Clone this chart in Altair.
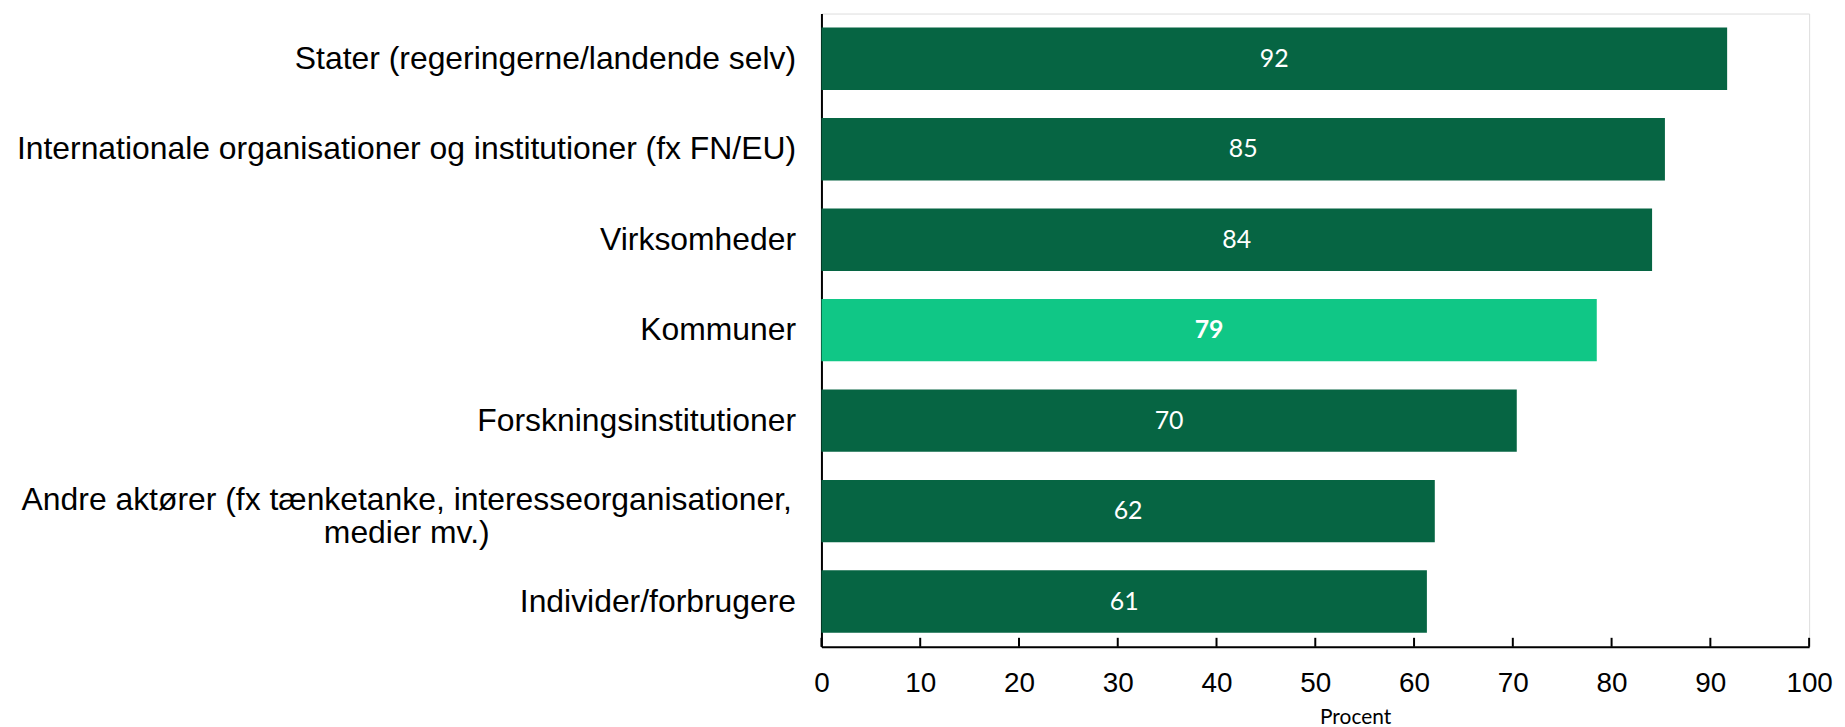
import altair as alt
import pandas as pd

categories = [
    "Stater (regeringerne/landende selv)",
    "Internationale organisationer og institutioner (fx FN/EU)",
    "Virksomheder",
    "Kommuner",
    "Forskningsinstitutioner",
    "Andre aktører (fx tænketanke, interesseorganisationer,\nmedier mv.)",
    "Individer/forbrugere",
]
values = [91.7, 85.4, 84.1, 78.5, 70.4, 62.1, 61.3]
labels = ["92", "85", "84", "79", "70", "62", "61"]
highlight = [False, False, False, True, False, False, False]
tick_values = [0, 10, 20, 30, 40, 50, 60, 70, 80, 90, 100]

df = pd.DataFrame({"kategori": categories, "procent": values,
                   "label": labels, "fremhaevet": highlight})
ticks_df = pd.DataFrame({"t": tick_values})

DARK = "#066543"
LIGHT = "#10C786"

W, H = 992, 636
MULTI = "indexof(datum.value, 'medier') >= 0"

y_enc = alt.Y(
    "kategori:N",
    sort=categories,
    scale=alt.Scale(paddingInner=0.31, paddingOuter=0.155),
    axis=alt.Axis(
        title=None,
        ticks=False,
        domainColor="black",
        domainWidth=2,
        labelFont="Liberation Sans",
        labelFontSize=32,
        labelColor="black",
        labelPadding={"condition": {"test": MULTI, "value": 417}, "value": 26},
        labelAlign={"condition": {"test": MULTI, "value": "center"}, "value": "right"},
        labelOffset={"condition": {"test": MULTI, "value": -11}, "value": 0},
        labelLimit=1200,
        labelLineHeight=33,
        labelExpr="split(datum.label, '\\n')",
    ),
)

x_scale = alt.Scale(domain=[0, 100], nice=False)
x_axis = alt.Axis(
    values=tick_values,
    ticks=False,
    grid=False,
    domainColor="black",
    domainWidth=2,
    labelFont="Liberation Sans",
    labelFontSize=28,
    labelColor="black",
    labelPadding=23,
    labelFlush=False,
    title="Procent",
    titleFont="Lato",
    titleFontSize=21,
    titleFontWeight="normal",
    titleColor="black",
    titleX=536,
    titleY=71,
    titleAlign="center",
    titleBaseline="middle",
)

bars = alt.Chart(df).mark_bar().encode(
    y=y_enc,
    x=alt.X("procent:Q", scale=x_scale, axis=x_axis),
    color=alt.condition("datum.fremhaevet", alt.value(LIGHT), alt.value(DARK)),
)

text_base = alt.Chart(df).transform_calculate(mid="datum.procent / 2")

text_normal = text_base.transform_filter("!datum.fremhaevet").mark_text(
    font="Lato", fontSize=25, color="white", baseline="middle", fontWeight="normal"
).encode(
    y=alt.Y("kategori:N", sort=categories),
    x=alt.X("mid:Q", scale=x_scale),
    text="label:N",
)

text_bold = text_base.transform_filter("datum.fremhaevet").mark_text(
    font="Lato", fontSize=25, color="white", baseline="middle", fontWeight="bold"
).encode(
    y=alt.Y("kategori:N", sort=categories),
    x=alt.X("mid:Q", scale=x_scale),
    text="label:N",
)

tick_marks = alt.Chart(ticks_df).mark_rule(color="black", strokeWidth=2).encode(
    x=alt.X("t:Q", scale=x_scale),
    y=alt.value(H - 9),
    y2=alt.value(H),
)

chart = alt.layer(bars, text_normal, text_bold, tick_marks).properties(
    width=W,
    height=H,
    autosize=alt.AutoSizeParams(type="none"),
    padding={"left": 817, "top": 4, "right": 28, "bottom": 79},
).configure_view(stroke=None).configure(background="white")

chart.save("out.html", embed_options={"renderer": "svg", "actions": False})
